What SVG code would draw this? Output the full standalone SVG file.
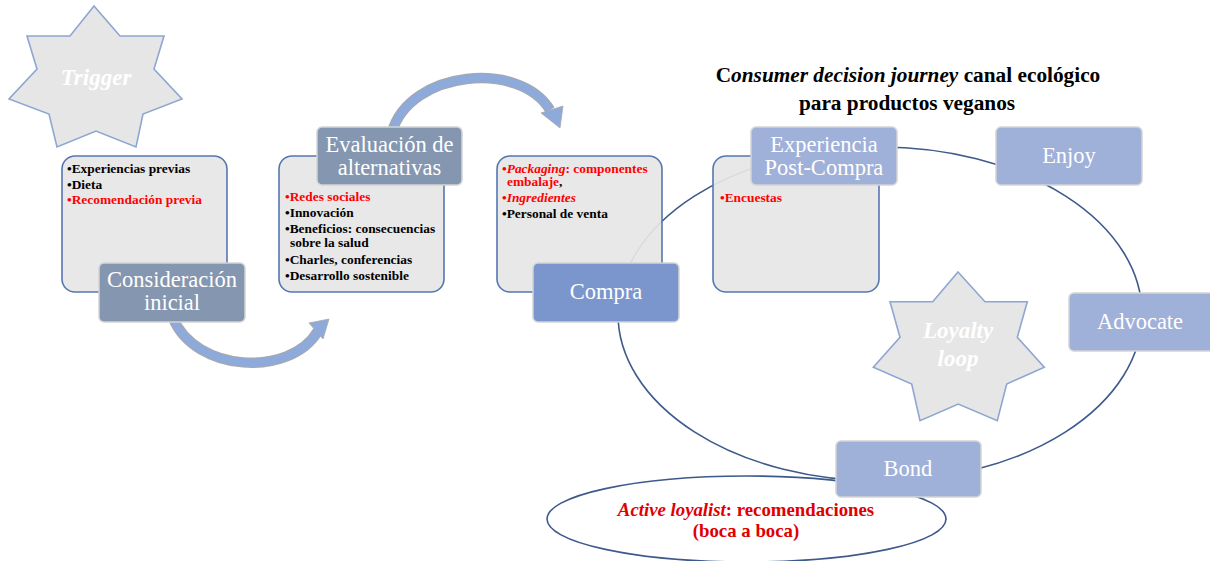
<svg xmlns="http://www.w3.org/2000/svg" width="1210" height="561" viewBox="0 0 1210 561">
  <style>
    .panel { fill: #e6e6e6; fill-opacity: 0.92; stroke: #5577b0; stroke-width: 1.6; }
    .tag { stroke: #d4d4d4; stroke-width: 1.5; }
    .tagA { fill: #8496b0; }
    .tagB { fill: #7b96cd; }
    .tagC { fill: #9fb0d9; }
    .tagtxt { font-family: "Liberation Serif", "Times New Roman", serif; font-size: 22.5px; fill: #ffffff; text-anchor: middle; }
    .star { fill: #e6e6e6; stroke: #8ea6d2; stroke-width: 1.6; }
    .startxt { font-family: "Liberation Serif", "Times New Roman", serif; font-size: 23px; font-weight: bold; font-style: italic; fill: #ffffff; text-anchor: middle; }
    .bul { font-family: "Liberation Serif", "Times New Roman", serif; font-size: 13.4px; font-weight: bold; fill: #000000; }
    .red { fill: #ff0000; }
    .it { font-style: italic; }
    .loop { fill: none; stroke: #3d5a8c; stroke-width: 1.6; }
    .bandEdge { fill: none; stroke: #a8a8a8; stroke-width: 10.5; }
    .band { fill: none; stroke: #8eaadb; stroke-width: 8.5; }
    .head { fill: #8eaadb; stroke: #a8a8a8; stroke-width: 0.8; }
    .title { font-family: "Liberation Serif", "Times New Roman", serif; font-size: 21.3px; font-weight: bold; fill: #000000; text-anchor: middle; }
    .loyal { font-family: "Liberation Serif", "Times New Roman", serif; font-size: 18.8px; font-weight: bold; fill: #e00000; text-anchor: middle; }
  </style>

  <!-- loop of the post-purchase stages and the curved flow arrows -->
  <g id="connectors">
    <ellipse class="loop" cx="880" cy="314" rx="262" ry="167"/>
    <path class="bandEdge" d="M173,318 C195,372 290,378 318,331"/>
    <path class="band" d="M173,318 C195,372 290,378 318,331"/>
    <polygon class="head" points="329,319 309,323 323,339"/>
    <path class="bandEdge" d="M392,132 C410,70 520,60 550,110"/>
    <path class="band" d="M392,132 C410,70 520,60 550,110"/>
    <polygon class="head" points="560,128 541,113 563,106"/>
  </g>

  <g id="trigger">
    <polygon class="star" points="94,6 70,36 27,36 37,69 9,99 49,114 57,147 96,131 136,147 143,114 182,99 154,69 164,36 120,36"/>
    <text class="startxt" x="96" y="85">Trigger</text>
  </g>

  <g id="consideracion">
    <rect class="panel" x="62" y="156" width="165" height="136" rx="13"/>
    <text class="bul" x="67" y="173">•Experiencias previas</text>
    <text class="bul" x="67" y="188.5">•Dieta</text>
    <text class="bul red" x="67" y="204">•Recomendación previa</text>
    <rect class="tag tagA" x="99" y="263" width="146" height="59" rx="5"/>
    <text class="tagtxt" x="172" y="287">Consideración</text>
    <text class="tagtxt" x="172" y="310">inicial</text>
  </g>

  <g id="evaluacion">
    <rect class="panel" x="279" y="156" width="165" height="136" rx="13"/>
    <text class="bul red" x="285" y="201">•Redes sociales</text>
    <text class="bul" x="285" y="217">•Innovación</text>
    <text class="bul" x="285" y="233">•Beneficios: consecuencias</text>
    <text class="bul" x="290" y="247">sobre la salud</text>
    <text class="bul" x="285" y="263.5">•Charles, conferencias</text>
    <text class="bul" x="285" y="280">•Desarrollo sostenible</text>
    <rect class="tag tagA" x="317" y="127" width="145" height="58" rx="5"/>
    <text class="tagtxt" x="389.5" y="152">Evaluación de</text>
    <text class="tagtxt" x="389.5" y="175">alternativas</text>
  </g>

  <g id="compra">
    <rect class="panel" x="497" y="156" width="165" height="136" rx="13"/>
    <text class="bul" x="502" y="173"><tspan class="red">•</tspan><tspan class="red it">Packaging</tspan><tspan class="red">: componentes</tspan></text>
    <text class="bul" x="507" y="186"><tspan class="red">embalaje</tspan>,</text>
    <text class="bul" x="502" y="202"><tspan class="red">•</tspan><tspan class="red it">Ingredientes</tspan></text>
    <text class="bul" x="502" y="218">•Personal de venta</text>
    <rect class="tag tagB" x="533" y="263" width="146" height="59" rx="5"/>
    <text class="tagtxt" x="606" y="299">Compra</text>
  </g>

  <g id="experiencia">
    <rect class="panel" x="713" y="156" width="166" height="136" rx="13"/>
    <text class="bul red" x="720" y="202">•Encuestas</text>
    <rect class="tag tagC" x="751" y="127" width="146" height="58" rx="5"/>
    <text class="tagtxt" x="824" y="152">Experiencia</text>
    <text class="tagtxt" x="824" y="175">Post-Compra</text>
  </g>

  <g id="enjoy">
    <rect class="tag tagC" x="996" y="127" width="146" height="58" rx="5"/>
    <text class="tagtxt" x="1069" y="163">Enjoy</text>
  </g>

  <g id="advocate">
    <rect class="tag tagC" x="1069" y="293" width="150" height="58" rx="5"/>
    <text class="tagtxt" x="1140" y="329">Advocate</text>
  </g>

  <g id="loyalty-loop">
    <polygon class="star" points="958,272 985,301.7 1027.3,301.7 1017.3,337.3 1044.3,367.3 1006.7,384 997.3,420.7 958.3,404 920,420.7 911.7,384 873.3,367.3 900,337.3 890,301.7 932.7,301.7"/>
    <text class="startxt" x="958" y="338">Loyalty</text>
    <text class="startxt" x="958" y="366">loop</text>
  </g>

  <g id="active-loyalist">
    <ellipse class="loop" cx="746.5" cy="519" rx="199.5" ry="43"/>
    <text class="loyal" x="746" y="516"><tspan font-style="italic">Active loyalist</tspan>: recomendaciones</text>
    <text class="loyal" x="746" y="537">(boca a boca)</text>
  </g>

  <g id="bond">
    <rect class="tag tagC" x="836" y="441" width="145" height="56" rx="5"/>
    <text class="tagtxt" x="908" y="476">Bond</text>
  </g>

  <g id="title">
    <text class="title" x="908" y="82">C<tspan font-style="italic">onsumer decision journey</tspan> canal ecológico</text>
    <text class="title" x="907" y="110">para productos veganos</text>
  </g>
</svg>
